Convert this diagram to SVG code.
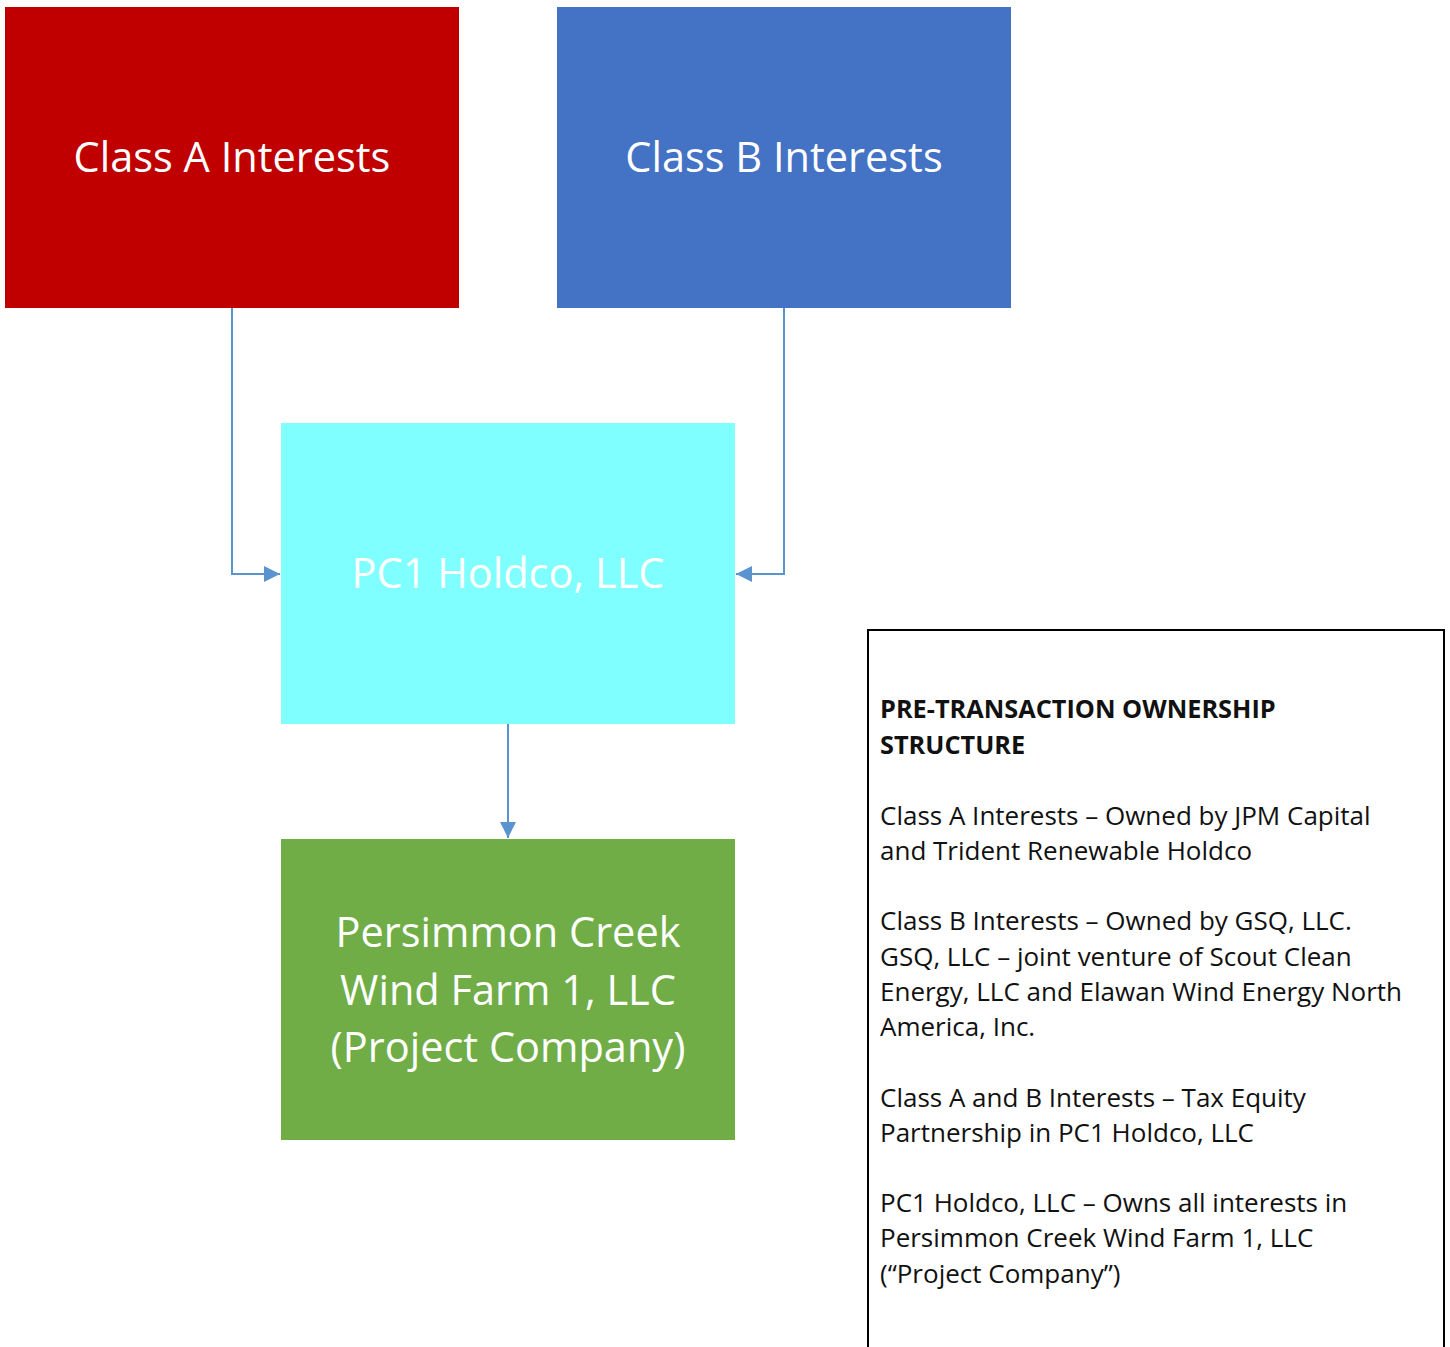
<svg xmlns="http://www.w3.org/2000/svg" width="1450" height="1347" viewBox="0 0 1450 1347">
<defs>
<style>
.node text{font-family:"Open Sans","Liberation Sans",sans-serif;fill:#ffffff;text-anchor:middle;font-size:41.5px}
.conn{fill:none;stroke:#5B93CF;stroke-width:2}
.note{font-family:"Open Sans","Liberation Sans",sans-serif;font-size:26px;fill:#111111}
.note .b{font-weight:bold;font-size:25.3px}
</style>
<marker id="arr" markerWidth="16" markerHeight="16" refX="16" refY="8" orient="auto" markerUnits="userSpaceOnUse" viewBox="0 0 16 16">
<path d="M0,0 L16,8 L0,16 z" fill="#5B93CF"/>
</marker>
</defs>
<rect width="1450" height="1347" fill="#ffffff"/>
<g id="connectors">
<path class="conn" d="M232,308 V574 H280" marker-end="url(#arr)"/>
<path class="conn" d="M784,308 V574 H736" marker-end="url(#arr)"/>
<path class="conn" d="M508,724 V838" marker-end="url(#arr)"/>
</g>
<g id="classA" class="node">
<rect x="5" y="7" width="454" height="301" fill="#C00000"/>
<text x="232" y="172">Class A Interests</text>
</g>
<g id="classB" class="node">
<rect x="557" y="7" width="454" height="301" fill="#4472C4"/>
<text x="784" y="172">Class B Interests</text>
</g>
<g id="holdco" class="node">
<rect x="281" y="423" width="454" height="301" fill="#7FFFFF"/>
<text x="508" y="588">PC1 Holdco, LLC</text>
</g>
<g id="project" class="node">
<rect x="281" y="839" width="454" height="301" fill="#70AD47"/>
<text x="508" y="947">Persimmon Creek</text>
<text x="508" y="1005">Wind Farm 1, LLC</text>
<text x="508" y="1062">(Project Company)</text>
</g>
<g id="note">
<path d="M868,1347 V630 H1444 V1347" fill="none" stroke="#000000" stroke-width="2"/>
<text class="note">
<tspan class="b" x="880" y="718">PRE-TRANSACTION OWNERSHIP</tspan>
<tspan class="b" x="880" y="754">STRUCTURE</tspan>
<tspan x="880" y="825">Class A Interests – Owned by JPM Capital</tspan>
<tspan x="880" y="860">and Trident Renewable Holdco</tspan>
<tspan x="880" y="930">Class B Interests – Owned by GSQ, LLC.</tspan>
<tspan x="880" y="966">GSQ, LLC – joint venture of Scout Clean</tspan>
<tspan x="880" y="1001">Energy, LLC and Elawan Wind Energy North</tspan>
<tspan x="880" y="1036">America, Inc.</tspan>
<tspan x="880" y="1107">Class A and B Interests – Tax Equity</tspan>
<tspan x="880" y="1142">Partnership in PC1 Holdco, LLC</tspan>
<tspan x="880" y="1212">PC1 Holdco, LLC – Owns all interests in</tspan>
<tspan x="880" y="1247">Persimmon Creek Wind Farm 1, LLC</tspan>
<tspan x="880" y="1283">(“Project Company”)</tspan>
</text>
</g>
</svg>
